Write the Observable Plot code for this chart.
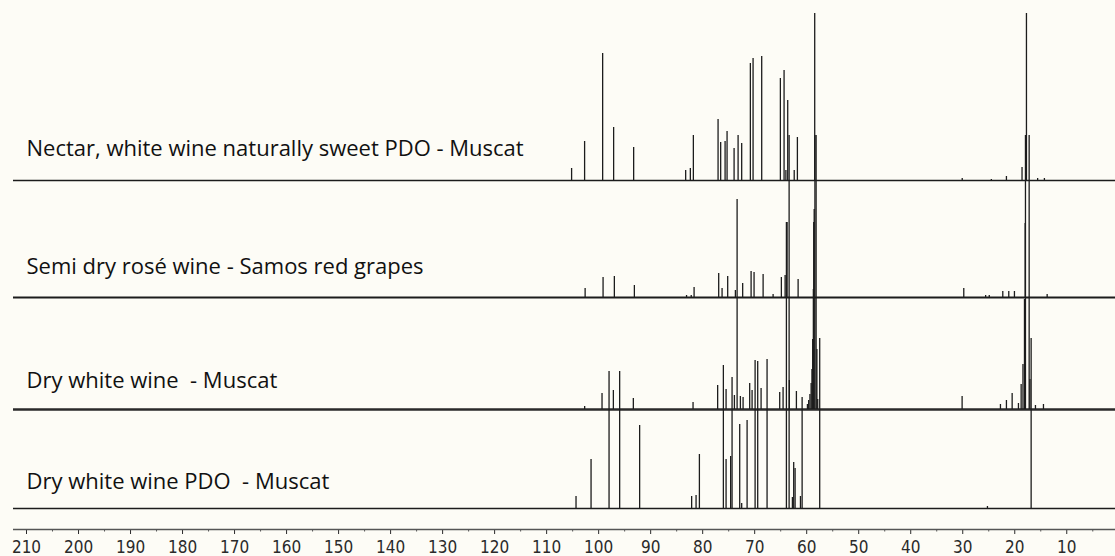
<!DOCTYPE html>
<html>
<head>
<meta charset="utf-8">
<script src="https://cdn.jsdelivr.net/npm/d3@7"></script>
<script src="https://cdn.jsdelivr.net/npm/@observablehq/plot@0.6"></script>
<style>
  html, body { margin: 0; padding: 0; background: #fdfcf6; }
  #chart svg { display: block; }
  #chart text { white-space: pre; }
  #chart g[aria-label="text"], #chart g[aria-label="text"] text { font-stretch: normal; }
</style>
</head>
<body>
<div id="chart"></div>
<script>
// 13C NMR spectra of four wines, stacked; chemical shift in ppm (axis reversed).
const sampleNames = [
  "Nectar, white wine naturally sweet PDO - Muscat",
  "Semi dry rosé wine - Samos red grapes",
  "Dry white wine  - Muscat",
  "Dry white wine PDO  - Muscat"
];

// Spectral window (ppm) and axis ticks
const spectralWindow = [212.5, 0.63];
const majorTicks = [210, 200, 190, 180, 170, 160, 150, 140, 130, 120, 110, 100, 90, 80, 70, 60, 50, 40, 30, 20, 10];
const minorTicks = [205, 195, 185, 175, 165, 155, 145, 135, 125, 115, 105, 95, 85, 75, 65, 55, 45, 35, 25, 15, 5];

// Peak lists: chemical shift (ppm) and intensity (arbitrary units)
const nectarPpm = [105.2, 102.7, 99.23, 97.12, 93.27, 83.27, 82.37, 81.79, 77.04, 76.54, 75.69, 75.31, 73.96, 73.19, 72.5, 70.83, 70.31, 68.65, 65.06, 64.35, 64.0, 63.65, 62.4, 61.79, 58.46, 30.1, 24.5, 21.6, 18.6, 17.75, 15.6, 14.3];
const nectarInt = [12, 39, 127, 53, 33, 10, 12, 45, 61, 38, 39, 49, 32, 45, 37, 117, 122, 124, 102, 110, 10, 80, 10, 43, 400, 2, 1, 4, 13, 400, 2, 2];

const semiDryPpm = [102.6, 99.15, 96.98, 93.13, 83.1, 82.2, 81.65, 76.92, 76.27, 75.19, 73.71, 72.31, 70.69, 70.12, 68.38, 66.46, 64.87, 64.15, 63.77, 61.65, 58.65, 29.8, 25.6, 24.9, 22.3, 21.15, 20.06, 18.0, 13.77];
const semiDryInt = [9, 20, 21, 12, 2, 2, 10, 24, 9, 21, 7, 14, 26, 25, 23, 3, 20, 22, 75, 18, 75, 9, 2, 2, 6, 6, 6, 74, 3];

const dryWhitePpm = [102.69, 99.35, 97.17, 93.33, 81.85, 77.12, 75.5, 73.9, 73.38, 72.75, 72.23, 70.96, 70.5, 68.77, 65.19, 64.54, 63.33, 61.98,
  59.86, 59.62, 59.38, 59.15, 58.99, 58.85, 58.72, 58.56, 58.42, 58.19, 58.04, 57.88,
  30.12, 22.75, 21.6, 20.5, 19.29, 18.77, 18.42, 18.13, 17.94, 17.23, 17.08, 16.02, 14.48];
const dryWhiteInt = [3, 16, 19, 11, 7, 24, 20, 14, 210, 13, 12, 26, 19, 21, 17, 22, 29, 18,
  5, 9, 15, 26, 40, 70, 120, 200, 274, 274, 60, 10,
  13, 5, 9, 16, 6, 25, 45, 110, 274, 274, 30, 4, 5];

const dryPdoPpm = [104.35, 101.46, 98.0, 95.96, 92.12, 82.12, 81.27, 80.63, 76.02, 75.5, 74.62, 74.35, 72.88, 72.5, 71.46, 69.92, 69.42, 67.62, 63.9, 63.38, 62.75, 62.5, 62.23, 61.2, 60.88, 57.5, 25.25, 16.85];
const dryPdoInt = [12, 49, 137, 137, 83, 12, 13, 54, 143, 49, 52, 131, 84, 5, 88, 148, 147, 149, 286, 373, 11, 46, 40, 12, 111, 170, 2, 170];

// Layout of the stack: baseline of each trace (in intensity units above the lowest trace),
// how far each label sits above its trace, and the noise band drawn along each baseline.
const stackOffset = [328, 211, 99, 0];
const labelRaise = [32, 31, 29, 27];
const baselineWidth = [1.3, 1.9, 2.7, 1.3];

const spectra = [
  {ppm: nectarPpm, int: nectarInt},
  {ppm: semiDryPpm, int: semiDryInt},
  {ppm: dryWhitePpm, int: dryWhiteInt},
  {ppm: dryPdoPpm, int: dryPdoInt}
];

const peakRows = spectra.flatMap((s, k) =>
  s.ppm.map((p, i) => ({ppm: p, base: stackOffset[k], top: stackOffset[k] + s.int[i]}))
);
const labelRows = sampleNames.map((name, k) => ({name, y: stackOffset[k] + labelRaise[k]}));

const ink = "#1c1c1c";
const bottom = -21;

const chart = Plot.plot({
  width: 1115,
  height: 556,
  marginLeft: 0,
  marginRight: 0,
  marginTop: 13,
  marginBottom: 27,
  style: {
    background: "#fdfcf6",
    color: "#2a2a2a",
    fontFamily: "'DejaVu Sans Condensed', 'DejaVu Sans', sans-serif",
    fontSize: "17px",
    fontStretch: "condensed"
  },
  x: {
    domain: [215, 0.63],
    ticks: majorTicks,
    tickSize: 5,
    tickPadding: 6,
    tickFormat: d => String(d),
    label: null
  },
  y: {domain: [bottom, 495], axis: null},
  marks: [
    // baselines of the four traces
    ...stackOffset.map((off, k) =>
      Plot.ruleY([off], {x1: spectralWindow[0], x2: spectralWindow[1], stroke: k === 2 ? "#2a2a2a" : ink, strokeWidth: baselineWidth[k]})
    ),
    // resonances
    Plot.ruleX(peakRows, {x: "ppm", y1: "base", y2: "top", stroke: ink, strokeWidth: 1.3, clip: true}),
    // axis line and minor ticks
    Plot.ruleY([bottom], {x1: spectralWindow[0], x2: spectralWindow[1], stroke: "#555", strokeWidth: 1.3}),
    Plot.ruleX(minorTicks, {y1: bottom, y2: bottom - 2.5, stroke: "#555", strokeWidth: 1}),
    // sample labels
    Plot.text(labelRows, {
      frameAnchor: "left",
      dx: 26,
      y: "y",
      text: "name",
      textAnchor: "start",
      fontFamily: "'Open Sans', sans-serif",
      fontSize: 22,
      fill: "#111"
    })
  ]
});

document.getElementById("chart").append(chart);
</script>
</body>
</html>
